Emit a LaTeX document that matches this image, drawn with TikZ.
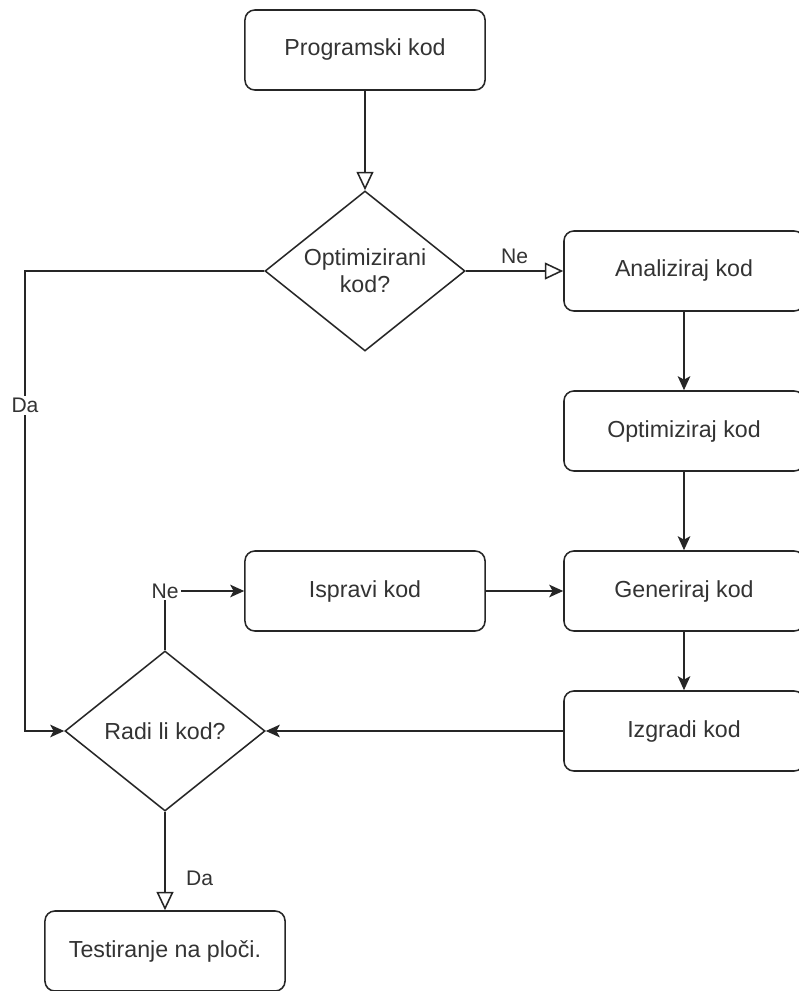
\documentclass[tikz,border=0pt]{standalone}
\usepackage{fontspec}
\setmainfont{Liberation Sans}
\usetikzlibrary{arrows.meta,shapes.geometric}

\begin{document}
\begin{tikzpicture}[x=0.025cm, y=-0.025cm, line width=1.1pt, draw=black!85,
    >={Stealth[length=10pt, width=9pt, inset=2.5pt]},
    hollow/.style={-{Triangle[open, length=13pt, width=12pt]}},
    box/.style={draw=black!85, rounded corners=7pt, minimum width=6cm, minimum height=2cm,
      text=black!80, font=\fontsize{16.5}{19}\selectfont},
    choice/.style={draw=black!85, diamond, aspect=1.25, inner sep=0pt, minimum width=5cm,
      minimum height=4cm, align=center, text=black!80, font=\fontsize{16.5}{19}\selectfont},
    lbl/.style={text=black!80, font=\fontsize{15}{17}\selectfont, inner sep=1.5pt}]
      \useasboundingbox (0,0) rectangle (798,991);

      \node[box] (prog) at (365,50) {Programski kod};
      \node[choice] (opt) at (365,271) {Optimizirani\\kod?};

      \node[box] (anal) at (684,271) {Analiziraj kod};
      \node[box] (optim) at (684,431) {Optimiziraj kod};
      \node[box] (gen) at (684,591) {Generiraj kod};
      \node[box] (build) at (684,731) {Izgradi kod};

      \node[box] (fix) at (365,591) {Ispravi kod};
      \node[choice] (works) at (165,731) {Radi li kod?};
      \node[box] (test) at (165,951) {Testiranje na ploči.};

      \coordinate (left) at (25,271);

      \draw[hollow] (prog) -- (opt);
      \draw[hollow] (opt.east) -- node[lbl, above=3pt] {Ne} (anal.west);
      \draw[->] (anal) -- (optim);
      \draw[->] (optim) -- (gen);
      \draw[->] (gen) -- (build);
      \draw[->] (build.west) -- (works.east);
      \draw[->] (fix.east) -- (gen.west);

      \draw[->] (opt.west) -- (left) |- node[lbl, fill=white, pos=0.146] {Da} (works.west);
      \draw[->] (works.north) |- node[lbl, fill=white, pos=0.5] {Ne} (fix.west);
      \draw[hollow] (works.south) -- node[lbl, pos=0.68, right=13pt] {Da} (test.north);
    \end{tikzpicture}
\end{document}
